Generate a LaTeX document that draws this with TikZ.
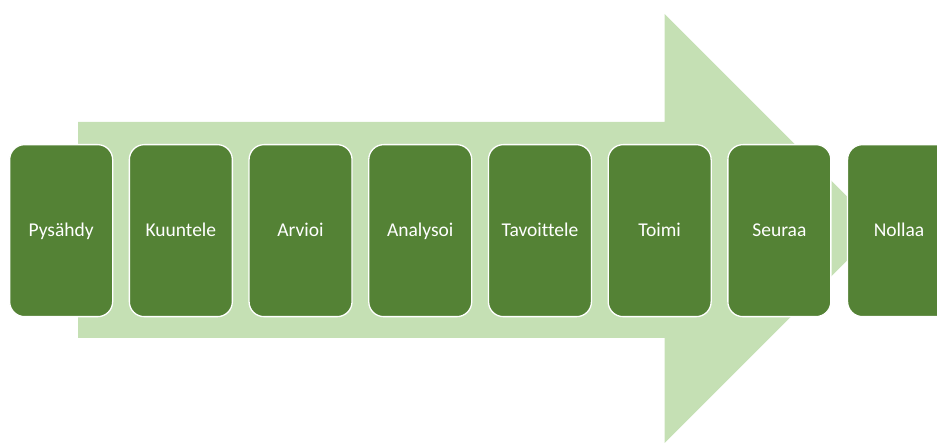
\documentclass[tikz,border=0pt]{standalone}
\usepackage{fontspec}
\setmainfont{Carlito}[Ligatures=NoCommon]
\definecolor{arrowgreen}{HTML}{C5E0B4}
\definecolor{boxgreen}{HTML}{548235}
\begin{document}
\begin{tikzpicture}[x=1pt,y=-1pt,
  stepbox/.style={draw=white, line width=1.3pt, fill=boxgreen, rounded corners=15pt,
    minimum width=103pt, minimum height=172pt, inner sep=0pt, anchor=north west,
    text height=12.6pt, text depth=0pt,
    text=white, font=\fontsize{19.5}{23}\selectfont}]
\useasboundingbox (0,0) rectangle (937,443);
\fill[arrowgreen] (78,122) -- (664.5,122) -- (664.5,14) -- (879,228.5) -- (664.5,443) -- (664.5,338) -- (78,338) -- cycle;
\node[stepbox] (s1) at (9,144) {Pysähdy};
\node[stepbox] (s2) at (128.7,144) {Kuuntele};
\node[stepbox] (s3) at (248.4,144) {Arvioi};
\node[stepbox] (s4) at (368.1,144) {Analysoi};
\node[stepbox] (s5) at (487.8,144) {Tavoittele};
\node[stepbox] (s6) at (607.5,144) {Toimi};
\node[stepbox] (s7) at (727.2,144) {Seuraa};
\node[stepbox] (s8) at (846.9,144) {Nollaa};
\end{tikzpicture}
\end{document}
